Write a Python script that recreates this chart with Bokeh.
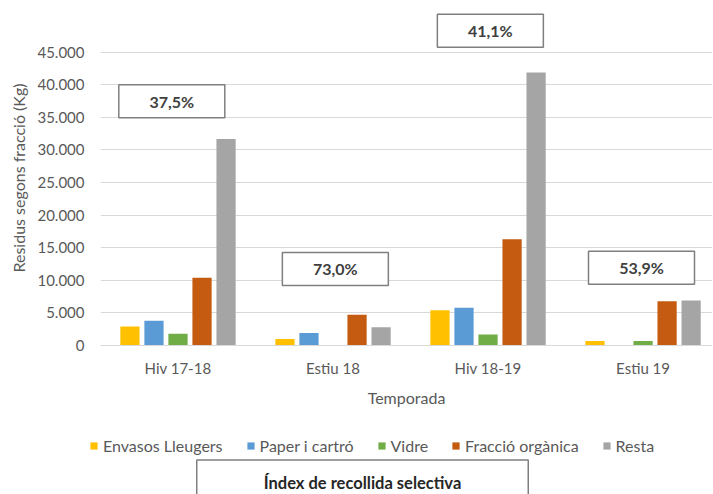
from bokeh.plotting import figure
from bokeh.layouts import column, row
from bokeh.models import Range1d, FixedTicker, Legend, LegendItem, Label, ColumnDataSource
from bokeh.embed import file_html
from bokeh.resources import INLINE
from bokeh.core.properties import value

# ---- data ----
seasons = ["Hiv 17-18", "Estiu 18", "Hiv 18-19", "Estiu 19"]
fractions = ["Envasos Lleugers", "Paper i cartró", "Vidre", "Fracció orgànica", "Resta"]
envasos = [2900, 1000, 5400, 700]
paper = [3800, 1900, 5800, 0]
vidre = [1800, 0, 1700, 700]
organica = [10400, 4700, 16300, 6800]
resta = [31700, 2800, 41900, 6900]
index_labels = ["37,5%", "73,0%", "41,1%", "53,9%"]
y_ticks = [0, 5000, 10000, 15000, 20000, 25000, 30000, 35000, 40000, 45000]
y_tick_labels = ["0", "5.000", "10.000", "15.000", "20.000", "25.000",
                 "30.000", "35.000", "40.000", "45.000"]
footer_title = "Índex de recollida selectiva"

# ---- styling ----
colors = ["#FFC000", "#5B9BD5", "#70AD47", "#C55A11", "#A5A5A5"]
FONT = "Lato"
TXT = "#595959"

series = [envasos, paper, vidre, organica, resta]
centers = [i + 0.5 for i in range(len(seasons))]
step = 0.155
bar_w = 0.124

p = figure(width=712, height=410, output_backend="svg", toolbar_location=None,
           x_range=Range1d(0, 3.948), y_range=Range1d(0, 51396),
           min_border_left=100, min_border_top=10, min_border_bottom=65, min_border_right=0)
p.outline_line_color = None
p.background_fill_color = "white"
p.border_fill_color = "white"

for k, (name, vals, col) in enumerate(zip(fractions, series, colors)):
    off = (k - 2) * step
    src = ColumnDataSource(dict(x=[c + off for c in centers], top=vals))
    p.vbar(x="x", top="top", width=bar_w, bottom=0, source=src,
           fill_color=col, line_color=None)

# index boxes
box_y = [37470, 11740, 48300, 11920]
box_x = [centers[0] - 0.04, centers[1] + 0.015, centers[2] + 0.015, centers[3] - 0.01]
bsrc = ColumnDataSource(dict(x=box_x, y=box_y, t=index_labels))
p.rect(x="x", y="y", width=106, height=33, width_units="screen", height_units="screen",
       source=bsrc, fill_color="white", line_color="#7f7f7f", line_width=1.5)
p.text(x="x", y="y", text="t", source=bsrc, text_align="center", text_baseline="middle",
       text_font=value(FONT), text_font_style="bold", text_font_size="16px",
       text_color="#404040")

# axes
p.xaxis.ticker = FixedTicker(ticks=centers)
p.xaxis.major_label_overrides = {c: s for c, s in zip(centers, seasons)}
p.yaxis.ticker = FixedTicker(ticks=y_ticks)
p.yaxis.major_label_overrides = {t: s for t, s in zip(y_ticks, y_tick_labels)}
for ax in (p.xaxis, p.yaxis):
    ax.major_tick_line_color = None
    ax.minor_tick_line_color = None
    ax.major_label_text_font = FONT
    ax.major_label_text_font_size = "15px"
    ax.major_label_text_color = TXT
    ax.axis_label_text_font = FONT
    ax.axis_label_text_font_size = "16px"
    ax.axis_label_text_font_style = "normal"
    ax.axis_label_text_color = TXT
p.xaxis.axis_line_color = "#d9d9d9"
p.yaxis.axis_line_color = None
p.xaxis.axis_label = "Temporada"
p.yaxis.axis_label = "Residus segons fracció (Kg)"
p.xaxis.major_label_standoff = 7
p.xaxis.axis_label_standoff = 8
p.yaxis.major_label_standoff = 10
p.yaxis.axis_label_standoff = 6
p.xgrid.grid_line_color = None
p.ygrid.grid_line_color = "#d9d9d9"
p.ygrid.grid_line_width = 1

# ---- footer: legend + index box ----
p2 = figure(width=712, height=84, output_backend="svg", toolbar_location=None,
            x_range=Range1d(0, 1), y_range=Range1d(0, 1),
            x_axis_location=None, y_axis_location=None,
            min_border=0, min_border_left=0, min_border_right=0,
            min_border_top=0, min_border_bottom=0)
p2.grid.visible = False
p2.outline_line_color = None
p2.background_fill_color = "white"
p2.border_fill_color = "white"

items = []
for name, col in zip(fractions, colors):
    # legend proxies (off-range) carrying each series colour
    r = p2.rect(x=[-10], y=[-10], width=0.01, height=0.01, fill_color=col, line_color=None)
    items.append(LegendItem(label=name, renderers=[r]))

legend = Legend(items=items, orientation="horizontal", location=(89, 39),
                glyph_width=9, glyph_height=9, label_standoff=5, spacing=23,
                padding=0, margin=0, border_line_color=None, background_fill_alpha=0,
                label_text_font=FONT, label_text_font_size="16px", label_text_color=TXT,
                label_height=20)
p2.add_layout(legend, "center")

box = Label(x=362, y=8, x_units="screen", y_units="screen",
            text=footer_title, text_align="center", text_baseline="middle",
            text_font=FONT, text_font_style="bold", text_font_size="16.5px", text_color="#262626",
            border_line_color="#7f7f7f", border_line_width=1.5, background_fill_color="white",
            padding=dict(left=67, right=67, top=13, bottom=20))
p2.add_layout(box)

layout = column(p, row(p2), spacing=0)
open("out.html", "w").write(file_html(layout, INLINE))
